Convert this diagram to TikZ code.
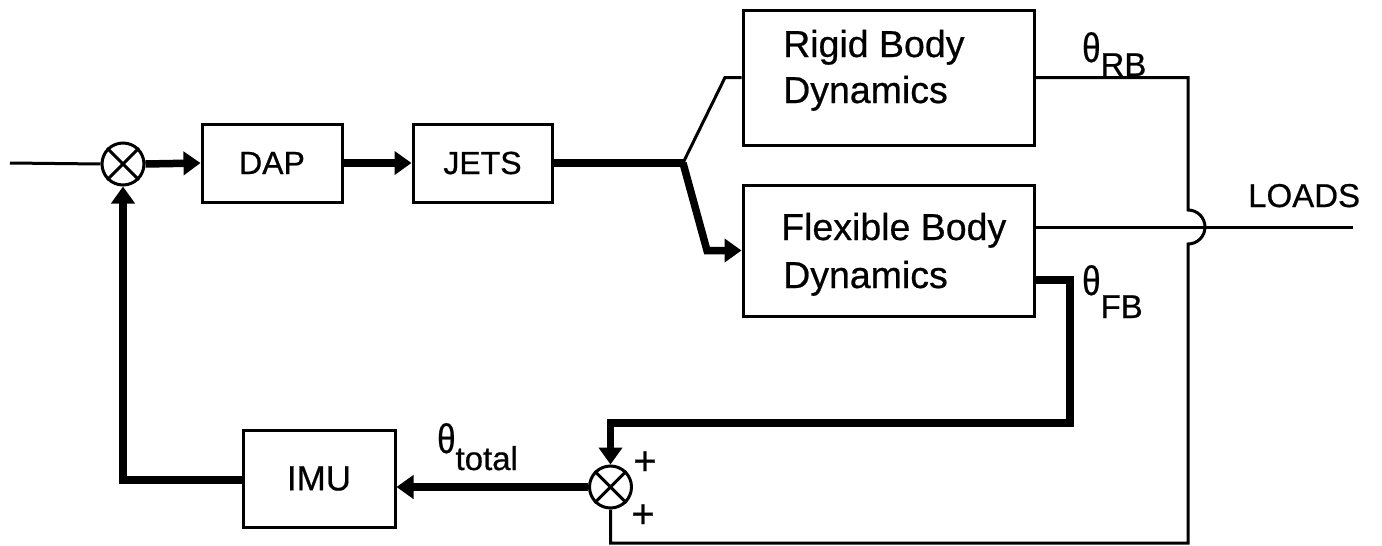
\documentclass[tikz,border=0pt]{standalone}
\usepackage{fontspec}
\setmainfont{Liberation Sans}[FakeBold=0.6]
\usetikzlibrary{arrows.meta}
\newcommand{\thetaglyph}{\scalebox{1}[1.25]{θ}}
\tikzset{
  thinline/.style={line width=3pt},
  thickline/.style={line width=7.5pt, line join=miter},
  tip/.style={-{Triangle[length=17pt,width=23pt]}},
  blk/.style={draw, line width=3pt, rectangle, inner sep=0pt},
  sumj/.style={draw, line width=3pt, circle, minimum size=42pt, inner sep=0pt},
  smalltxt/.style={font=\fontsize{32}{38}\selectfont, inner sep=0pt},
  bigtxt/.style={font=\fontsize{37.5}{46}\selectfont, inner sep=0pt},
  lbl/.style={font=\fontsize{33}{40}\selectfont, inner sep=0pt},
  plus/.style={font=\fontsize{40}{48}\selectfont, inner sep=0pt},
}
\begin{document}
\begin{tikzpicture}[x=1pt,y=-1pt]
\useasboundingbox (0,0) rectangle (1382,546);

% blocks
\node[sumj] (sum1) at (123,164) {};
\node[blk, minimum width=140pt, minimum height=78pt, smalltxt] (dap) at (272,163) {DAP};
\node[blk, minimum width=139pt, minimum height=78pt, smalltxt] (jets) at (482.5,163) {JETS};
\node[blk, minimum width=291pt, minimum height=135pt] (rigid) at (888.5,77.5) {};
\node[blk, minimum width=291pt, minimum height=131pt] (flex) at (888.5,250.5) {};
\node[blk, minimum width=152pt, minimum height=97pt, font=\fontsize{35}{42}\selectfont] (imu) at (319,478.5) {IMU};
\node[sumj] (sum2) at (610.5,487) {};

% crosses in summing junctions
\draw[thinline] (sum1.north west) -- (sum1.south east) (sum1.north east) -- (sum1.south west);
\draw[thinline] (sum2.north west) -- (sum2.south east) (sum2.north east) -- (sum2.south west);

% block texts
\node[bigtxt, anchor=base west] (rt1) at (783,57) {Rigid Body};
\node[bigtxt, anchor=base west] (rt2) at (783,103) {Dynamics};
\node[bigtxt, anchor=base west] (ft1) at (781,240) {Flexible Body};
\node[bigtxt, anchor=base west] (ft2) at (783,288) {Dynamics};

% coordinates
\coordinate (in) at (10,163);
\coordinate (br) at (683,163);
\coordinate (loadsend) at (1353,227);

% forward path
\draw[thinline] (in) -- (sum1.west);
\draw[thickline, tip] (sum1.east) -- (dap.west);
\draw[thickline, tip] (dap.east) -- (jets.west);
\draw[thickline] (jets.east) -- (br);
\draw[thinline] (br) -- (725,77.5) -- (rigid.west);
\draw[thickline, tip] (br) -- (707,250.5) -- (flex.west);

% loads output
\draw[thinline] (flex.east |- loadsend) -- (loadsend);

% rigid body output with jump
\draw[thinline] (rigid.east) -- (1188,77.5) -- (1188,210)
   arc[start angle=-90, end angle=90, radius=17] -- (1188,543) -| (sum2.south);

% flexible body output
\draw[thickline, tip] (1033,280) -- (1070,280) -- (1070,423) -| (sum2.north);

% feedback
\draw[thickline, tip] (sum2.west) -- (imu.east |- sum2.west);
\draw[thickline, tip] (imu.west |- 0,480) -| (sum1.south);

% labels
\node[lbl, anchor=base west] (thrb) at (1082,62) {\thetaglyph\raisebox{-14pt}{RB}};
\node[lbl, anchor=base west] (thfb) at (1082,295) {\thetaglyph\raisebox{-23pt}{FB}};
\node[lbl, anchor=base west] (thtot) at (437,453) {\thetaglyph\raisebox{-17pt}{total}};
\node[lbl, anchor=base west] (loads) at (1248,207) {LOADS};
\node[plus] (p1) at (645,463) {+};
\node[plus] (p2) at (643,516) {+};
\end{tikzpicture}
\end{document}
